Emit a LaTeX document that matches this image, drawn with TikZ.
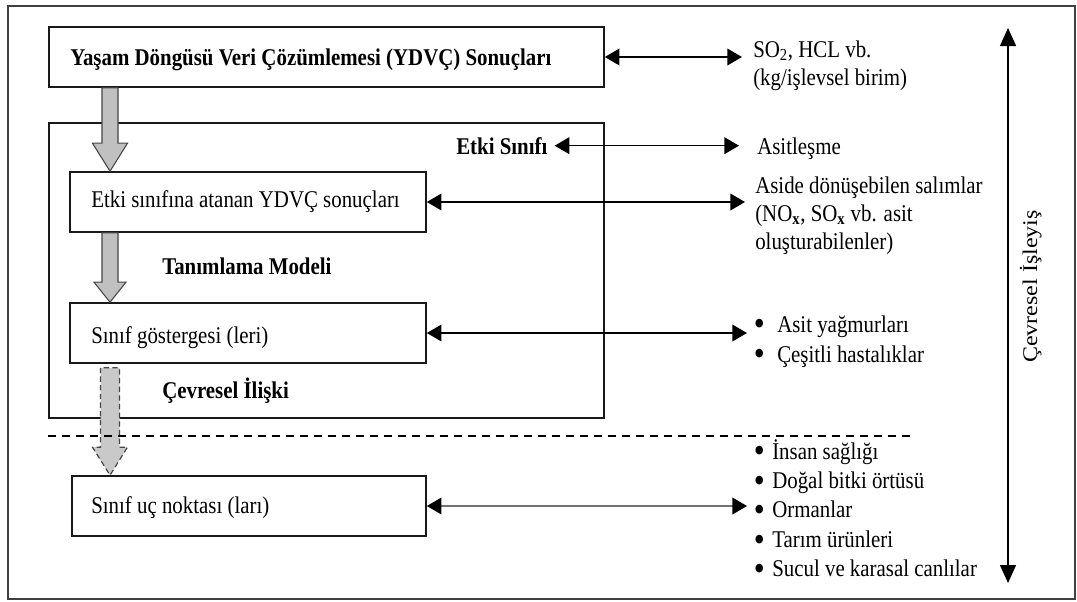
\documentclass[tikz,border=0pt]{standalone}
\usepackage{fontspec}
\usepackage{graphicx}
\setmainfont{Liberation Serif}[FakeStretch=0.87]
\newfontfamily\plainserif{Liberation Serif}
\usetikzlibrary{arrows.meta,calc}

\definecolor{blockgray}{RGB}{192,192,192}
\definecolor{edgegray}{RGB}{70,70,70}

% bullet item: a bullet centred 3pt from the left of a box of width #1, then the text #2
\newcommand{\bul}[2]{\makebox[#1][l]{\hspace{3pt}\makebox[0pt][c]{\raisebox{-0.16em}{\scalebox{1.5}{\textbullet}}}}#2}

% block arrow: [style]{start}{tip}{head length}{head half width}{shaft half width}
\newcommand{\blockarrow}[6][]{%
  \filldraw[#1] ($(#2)+(-#6,0)$) -- ($(#3)+(-#6,-#4)$) -- ($(#3)+(-#5,-#4)$)
    -- (#3) -- ($(#3)+(#5,-#4)$) -- ($(#3)+(#6,-#4)$) -- ($(#2)+(#6,0)$) -- cycle;}

\begin{document}
\begin{tikzpicture}[x=0.75pt,y=-0.75pt,
  every node/.style={inner sep=0pt, font=\fontsize{18}{21}\selectfont},
  bold/.style={font=\fontsize{18}{21}\selectfont\bfseries},
  box/.style={draw=black!90, line width=1.2pt},
  lbl/.style={anchor=base west},
  link/.style={line width=1.1pt,
    {Triangle[length=11pt,width=12.5pt]}-{Triangle[length=11pt,width=12.5pt]}},
  linkgray/.style={line width=1.1pt, draw=black!55,
    {Triangle[length=11pt,width=12.5pt,color=black]}-{Triangle[length=11pt,width=12.5pt,color=black]}},
  vlink/.style={line width=1pt,
    {Triangle[length=13.5pt,width=12pt]}-{Triangle[length=13.5pt,width=12pt]}},
  solidblock/.style={fill=blockgray, draw=edgegray, line width=0.8pt},
  dashedblock/.style={fill=blockgray!85, draw=edgegray, line width=0.9pt, dash pattern=on 4pt off 2.5pt},
  sepline/.style={line width=1.1pt, dash pattern=on 6pt off 4.5pt}
]
\useasboundingbox (0,0) rectangle (1077,601);
\fill[white] (0,0) rectangle (1077,601);

% outer frame
\draw[line width=1.5pt, draw=black!75] (8,6) rectangle (1075,599);

% boxes
\node[box, minimum width=416.25pt, minimum height=45pt] (topbox) at (326.5,57) {};
\node[box, minimum width=416.25pt, minimum height=221.25pt] (effect) at (326.5,270.5) {};
\node[box, minimum width=267pt, minimum height=45pt] (box2) at (248,202) {};
\node[box, minimum width=267pt, minimum height=45pt] (box3) at (248,333) {};
\node[box, minimum width=265.5pt, minimum height=45pt] (box4) at (249,506) {};

% block arrows down the left side
\coordinate (axis) at (110,0);
\coordinate (a1s) at (topbox.south -| axis);
\coordinate (a1e) at (box2.north -| axis);
\coordinate (a2s) at (box2.south -| axis);
\coordinate (a2e) at (box3.north -| axis);
\coordinate (a3s) at ($(box3.south -| axis)+(0,4)$);
\coordinate (a3e) at (box4.north -| axis);
\blockarrow[solidblock]{a1s}{a1e}{28}{17.5}{8}
\blockarrow[solidblock]{a2s}{a2e}{20}{16}{8}
\blockarrow[dashedblock]{a3s}{a3e}{28}{17.5}{9.5}

% separator
\draw[sepline] (48,436) -- (910,436);

% left texts
\node[lbl, bold] (title) at (70,65) {Yaşam Döngüsü Veri Çözümlemesi (YDVÇ) Sonuçları};
\node[lbl, bold] (etkisinifi) at (456,154) {Etki Sınıfı};
\node[lbl] (t2) at (91,207) {Etki sınıfına atanan YDVÇ sonuçları};
\node[lbl, bold] (tanim) at (162,274) {Tanımlama Modeli};
\node[lbl] (t3) at (91,343) {Sınıf göstergesi (leri)};
\node[lbl, bold] (cevil) at (162,398) {Çevresel İlişki};
\node[lbl] (t4) at (91,513) {Sınıf uç noktası (ları)};

% right texts
\node[lbl] (so2) at (753,57) {\parbox[t]{300pt}{\fontsize{18}{21}\selectfont
  SO\textsubscript{2}, HCL vb.\\(kg/işlevsel birim)}};
\node[lbl] (asit) at (757,154) {Asitleşme};
\node[lbl] (aside) at (755,193) {\parbox[t]{300pt}{\fontsize{18}{21}\selectfont
  Aside dönüşebilen salımlar\\
  (NO\textsubscript{\textbf{x}}, SO\textsubscript{\textbf{x}} vb. asit\\
  oluşturabilenler)}};
\node[lbl] (rain) at (755,332) {\parbox[t]{300pt}{\fontsize{18}{22.5}\selectfont
  \bul{16.5pt}{Asit yağmurları}\\
  \bul{16.5pt}{Çeşitli hastalıklar}}};
\node[lbl] (ends) at (755,459) {\parbox[t]{300pt}{\fontsize{18}{22.1}\selectfont
  \bul{12.75pt}{İnsan sağlığı}\\
  \bul{12.75pt}{Doğal bitki örtüsü}\\
  \bul{12.75pt}{Ormanlar}\\
  \bul{12.75pt}{Tarım ürünleri}\\
  \bul{12.75pt}{Sucul ve karasal canlılar}}};

% vertical axis label
\node[rotate=90, anchor=base] (perf) at (1037,286.5)
  {\scalebox{1}[0.87]{\plainserif Çevresel İşleyiş}};

% connectors
\draw[link, shorten >=8.25pt] (topbox.east) -- (topbox.east -| so2.west);
\draw[link, shorten <=5.25pt, shorten >=13.5pt] (etkisinifi.east) -- (etkisinifi.east -| asit.west);
\draw[link, shorten >=7.5pt] (box2.east) -- (box2.east -| aside.west);
\draw[link, shorten >=6pt] (box3.east) -- (box3.east -| rain.west);
\draw[linkgray, shorten >=6pt] (box4.east) -- (box4.east -| ends.west);

\coordinate (pTop) at (1008,28);
\coordinate (pBot) at (1008,583);
\draw[vlink] (pTop) -- (pBot);
\end{tikzpicture}
\end{document}
